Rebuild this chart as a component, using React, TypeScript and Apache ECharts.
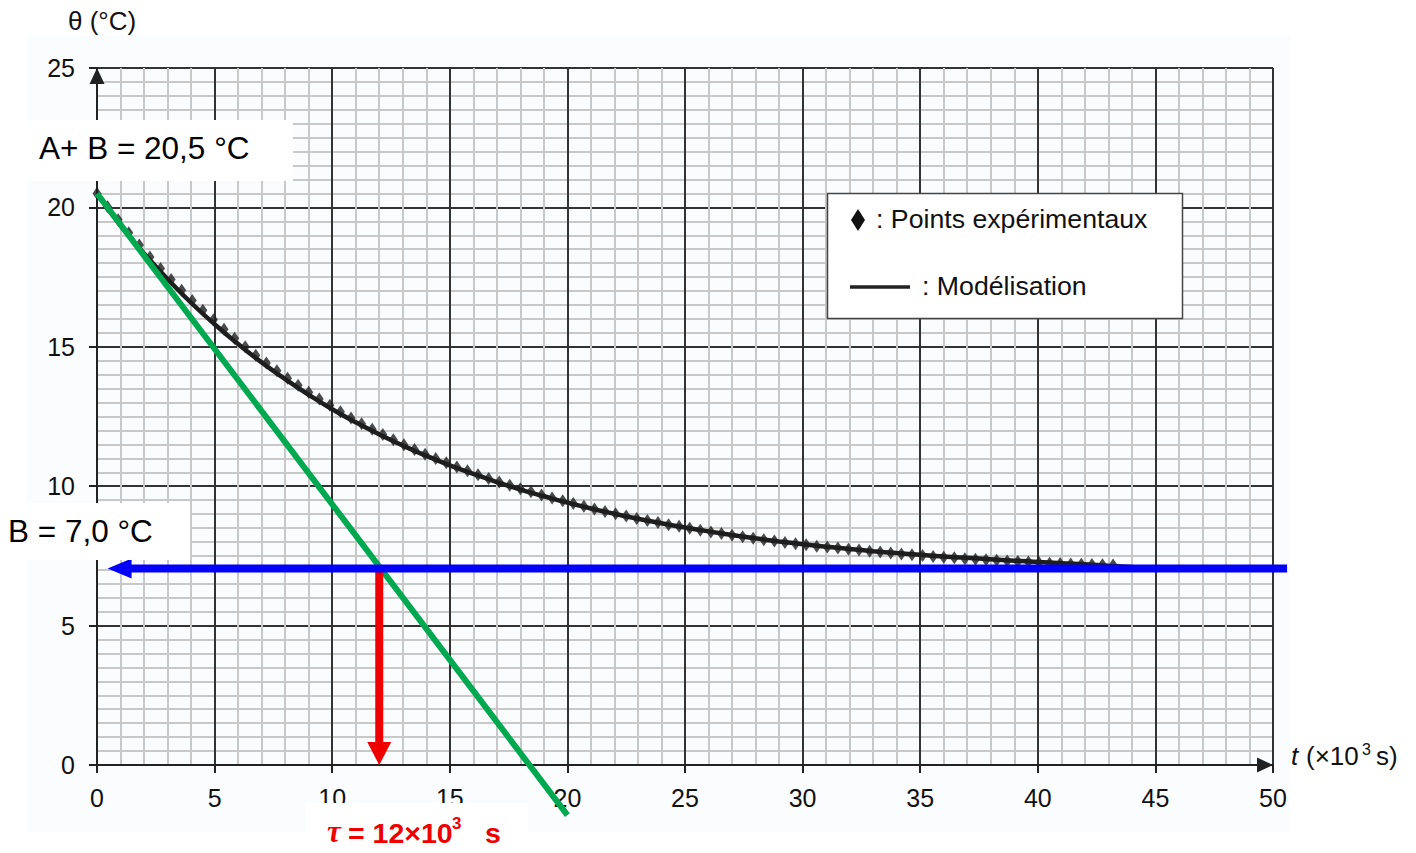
import React, { useEffect, useRef } from "react";
import * as echarts from "echarts";

// Experimental points: time (×10³ s) and temperature (°C)
const expTimes = [0, 0.45, 0.9, 1.35, 1.8, 2.25, 2.7, 3.15, 3.6, 4.05, 4.5, 4.95, 5.4, 5.85, 6.3, 6.75, 7.2, 7.65, 8.1, 8.55, 9, 9.45, 9.9, 10.35, 10.8, 11.25, 11.7, 12.15, 12.6, 13.05, 13.5, 13.95, 14.4, 14.85, 15.3, 15.75, 16.2, 16.65, 17.1, 17.55, 18, 18.45, 18.9, 19.35, 19.8, 20.25, 20.7, 21.15, 21.6, 22.05, 22.5, 22.95, 23.4, 23.85, 24.3, 24.75, 25.2, 25.65, 26.1, 26.55, 27, 27.45, 27.9, 28.35, 28.8, 29.25, 29.7, 30.15, 30.6, 31.05, 31.5, 31.95, 32.4, 32.85, 33.3, 33.75, 34.2, 34.65, 35.1, 35.55, 36, 36.45, 36.9, 37.35, 37.8, 38.25, 38.7, 39.15, 39.6, 40.05, 40.5, 40.95, 41.4, 41.85, 42.3, 42.75, 43.2];
const expTemps = [20.5, 20.02, 19.56, 19.09, 18.65, 18.22, 17.81, 17.41, 17.03, 16.66, 16.31, 15.97, 15.63, 15.31, 15.0, 14.7, 14.42, 14.14, 13.87, 13.62, 13.37, 13.13, 12.9, 12.67, 12.45, 12.24, 12.04, 11.85, 11.67, 11.49, 11.32, 11.15, 10.99, 10.84, 10.69, 10.55, 10.41, 10.28, 10.15, 10.03, 9.91, 9.8, 9.68, 9.58, 9.48, 9.38, 9.28, 9.18, 9.09, 9.01, 8.93, 8.84, 8.77, 8.7, 8.62, 8.56, 8.49, 8.42, 8.36, 8.3, 8.24, 8.19, 8.13, 8.08, 8.03, 7.98, 7.94, 7.9, 7.85, 7.82, 7.78, 7.74, 7.71, 7.67, 7.64, 7.6, 7.57, 7.54, 7.51, 7.48, 7.45, 7.43, 7.4, 7.38, 7.36, 7.34, 7.32, 7.3, 7.28, 7.26, 7.24, 7.23, 7.21, 7.2, 7.19, 7.18, 7.17];

// Model curve
const modelTimes = [0, 1, 2, 3, 4, 5, 6, 7, 8, 9, 10, 11, 12, 13, 14, 15, 16, 17, 18, 19, 20, 21, 22, 23, 24, 25, 26, 27, 28, 29, 30, 31, 32, 33, 34, 35, 36, 37, 38, 39, 40, 41, 42, 43, 44];
const modelTemps = [20.5, 19.35, 18.35, 17.43, 16.58, 15.81, 15.1, 14.44, 13.84, 13.28, 12.76, 12.29, 11.86, 11.46, 11.09, 10.75, 10.44, 10.15, 9.88, 9.64, 9.41, 9.2, 9.01, 8.83, 8.67, 8.52, 8.38, 8.25, 8.13, 8.02, 7.92, 7.83, 7.75, 7.67, 7.6, 7.54, 7.48, 7.43, 7.38, 7.33, 7.28, 7.24, 7.2, 7.15, 7.1];

// Annotations [x1, y1, x2, y2]
const tangentSeg = [0, 20.5, 20, -1.8];
const asymptoteSeg = [50.6, 7.05, 0.45, 7.05];
const tauSeg = [12, 7.05, 12, 0];

const xMin = 0, xMax = 50, xStep = 5;
const yMin = 0, yMax = 25, yStep = 5;

const FONT = "'Liberation Sans', Arial, Helvetica, sans-serif";

function segRenderer(color: string, width: number, head: null | { len: number; half: number }) {
  return (params: any, api: any) => {
    const p1 = api.coord([api.value(0), api.value(1)]);
    const p2 = api.coord([api.value(2), api.value(3)]);
    const children: any[] = [];
    if (!head) {
      children.push({
        type: "line",
        shape: { x1: p1[0], y1: p1[1], x2: p2[0], y2: p2[1] },
        style: { stroke: color, lineWidth: width },
      });
    } else {
      const dx = p2[0] - p1[0];
      const dy = p2[1] - p1[1];
      const len = Math.hypot(dx, dy) || 1;
      const ux = dx / len, uy = dy / len;
      const bx = p2[0] - ux * head.len;
      const by = p2[1] - uy * head.len;
      children.push({
        type: "line",
        shape: { x1: p1[0], y1: p1[1], x2: bx + ux, y2: by + uy },
        style: { stroke: color, lineWidth: width },
      });
      children.push({
        type: "polygon",
        shape: {
          points: [
            [p2[0], p2[1]],
            [bx - uy * head.half, by + ux * head.half],
            [bx + uy * head.half, by - ux * head.half],
          ],
        },
        style: { fill: color },
      });
    }
    return { type: "group", children };
  };
}

export default function App() {
  const ref = useRef<HTMLDivElement>(null);

  useEffect(() => {
    if (!ref.current) return;
    const chart = echarts.init(ref.current, undefined, { renderer: "svg" });

    const axisCommon = {
      type: "value" as const,
      axisTick: { show: true, length: 8, lineStyle: { color: "#222", width: 2 } },
      splitLine: { show: true, lineStyle: { color: "#333", width: 2 } },
      minorSplitLine: { show: true, lineStyle: { color: "#c8c8c8", width: 2 } },
      axisLabel: { fontSize: 25, color: "#111", fontFamily: FONT },
    };

    chart.setOption({
      animation: false,
      backgroundColor: "transparent",
      grid: { left: 97, top: 68, width: 1176, height: 697, containLabel: false },
      xAxis: {
        ...axisCommon,
        min: xMin,
        max: xMax,
        interval: xStep,
        minorTick: { show: false, splitNumber: 5 },
        axisLine: {
          show: true,
          lineStyle: { color: "#222", width: 2 },
          symbol: ["none", "triangle"],
          symbolSize: [15, 16],
          symbolOffset: [0, -8],
        },
        axisLabel: { ...axisCommon.axisLabel, margin: 20 },
      },
      yAxis: {
        ...axisCommon,
        min: yMin,
        max: yMax,
        interval: yStep,
        minorTick: { show: false, splitNumber: 10 },
        axisLine: {
          show: true,
          lineStyle: { color: "#222", width: 2 },
          symbol: ["none", "triangle"],
          symbolSize: [15, 16],
          symbolOffset: [0, -8],
        },
        axisLabel: { ...axisCommon.axisLabel, margin: 22 },
      },
      series: [
        {
          type: "line",
          name: "Modélisation",
          data: modelTimes.map((t, i) => [t, modelTemps[i]]),
          smooth: true,
          showSymbol: false,
          lineStyle: { color: "#1e1e1e", width: 4.5 },
          z: 3,
        },
        {
          type: "scatter",
          name: "Points expérimentaux",
          data: expTimes.map((t, i) => [t, expTemps[i]]),
          symbol: "diamond",
          symbolSize: [9, 13],
          itemStyle: { color: "#1e1e1e" },
          z: 4,
        },
        {
          type: "custom",
          data: [tangentSeg],
          encode: { x: [0, 2], y: [1, 3] },
          renderItem: segRenderer("#00a84f", 6, null),
          clip: false,
          z: 5,
        },
        {
          type: "custom",
          data: [tauSeg],
          encode: { x: [0, 2], y: [1, 3] },
          renderItem: segRenderer("#ee0000", 8, { len: 23, half: 12 }),
          clip: false,
          z: 6,
        },
        {
          type: "custom",
          data: [asymptoteSeg],
          encode: { x: [0, 2], y: [1, 3] },
          renderItem: segRenderer("#0000ff", 8, { len: 24, half: 10 }),
          clip: false,
          z: 7,
        },
      ],
      graphic: [
        // axis names
        {
          type: "text",
          left: 68,
          top: 8,
          z: 100,
          style: { text: "θ (°C)", fontSize: 26, fill: "#111", fontFamily: FONT },
        },
        {
          type: "text",
          left: 1291,
          top: 743,
          z: 100,
          style: { text: "t", fontSize: 26, fontStyle: "italic", fill: "#111", fontFamily: FONT },
        },
        {
          type: "text",
          left: 1306,
          top: 743,
          z: 100,
          style: { text: "(×10", fontSize: 26, fill: "#111", fontFamily: FONT },
        },
        {
          type: "text",
          left: 1362,
          top: 741,
          z: 100,
          style: { text: "3", fontSize: 16, fill: "#111", fontFamily: FONT },
        },
        {
          type: "text",
          left: 1376,
          top: 743,
          z: 100,
          style: { text: "s)", fontSize: 26, fill: "#111", fontFamily: FONT },
        },
        // A + B label
        {
          type: "rect",
          z: 100,
          shape: { x: 20, y: 120, width: 273, height: 61 },
          style: { fill: "#ffffff" },
        },
        {
          type: "text",
          z: 101,
          left: 39,
          top: 132,
          style: { text: "A+ B = 20,5 °C", fontSize: 31.5, fill: "#000", fontFamily: FONT },
        },
        // B label
        {
          type: "rect",
          z: 100,
          shape: { x: 0, y: 503, width: 190, height: 57 },
          style: { fill: "#ffffff" },
        },
        {
          type: "text",
          z: 101,
          left: 8,
          top: 515,
          style: { text: "B = 7,0 °C", fontSize: 31.5, fill: "#000", fontFamily: FONT },
        },
        // tau label
        {
          type: "rect",
          z: 100,
          shape: { x: 305, y: 803, width: 223, height: 50 },
          style: { fill: "#ffffff" },
        },
        {
          type: "text",
          z: 101,
          left: 327,
          top: 816,
          style: { text: "τ", fontSize: 31, fontStyle: "italic", fontWeight: "bold", fill: "#ee0000", fontFamily: "'Liberation Serif', 'DejaVu Serif', serif" },
        },
        {
          type: "text",
          z: 101,
          left: 348,
          top: 818,
          style: { text: "= 12×10", fontSize: 28.5, fontWeight: "bold", fill: "#ee0000", fontFamily: FONT },
        },
        {
          type: "text",
          z: 101,
          left: 452,
          top: 815,
          style: { text: "3", fontSize: 17, fontWeight: "bold", fill: "#ee0000", fontFamily: FONT },
        },
        {
          type: "text",
          z: 101,
          left: 485,
          top: 818,
          style: { text: "s", fontSize: 28.5, fontWeight: "bold", fill: "#ee0000", fontFamily: FONT },
        },
        // legend box
        {
          type: "rect",
          z: 100,
          shape: { x: 827.5, y: 193.5, width: 355, height: 125 },
          style: { fill: "#ffffff", stroke: "#444", lineWidth: 1.5 },
        },
        {
          type: "polygon",
          z: 101,
          shape: { points: [[858, 209], [865, 220], [858, 231], [851, 220]] },
          style: { fill: "#111" },
        },
        {
          type: "text",
          z: 101,
          left: 876,
          top: 205,
          style: { text: ": Points expérimentaux", fontSize: 26.7, fill: "#111", fontFamily: FONT },
        },
        {
          type: "line",
          z: 101,
          shape: { x1: 850, y1: 287, x2: 910, y2: 287 },
          style: { stroke: "#222", lineWidth: 3.5 },
        },
        {
          type: "text",
          z: 101,
          left: 922,
          top: 272,
          style: { text: ": Modélisation", fontSize: 26.7, fill: "#111", fontFamily: FONT },
        },
      ],
    });

    return () => chart.dispose();
  }, []);

  return (
    <div style={{ position: "fixed", left: 0, top: 0, width: 1416, height: 853, background: "#ffffff" }}>
      <div style={{ position: "absolute", left: 27, top: 36, width: 1263, height: 796, background: "#fbfcfe" }} />
      <div ref={ref} style={{ position: "absolute", left: 0, top: 0, width: 1416, height: 853 }} />
    </div>
  );
}
